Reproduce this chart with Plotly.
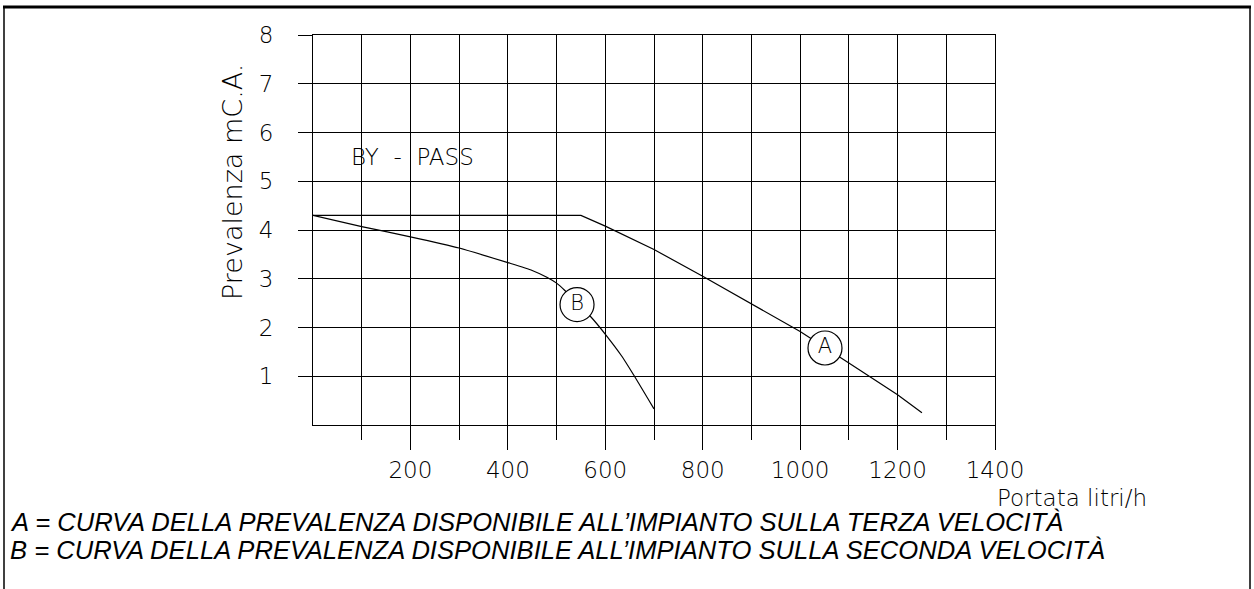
import plotly.graph_objects as go

# ---- data ----
a_x = [0, 550, 600, 700, 800, 900, 1000, 1100, 1200, 1250]
a_y = [4.3, 4.3, 4.08, 3.6, 3.05, 2.48, 1.92, 1.27, 0.62, 0.25]

b_x = [0, 100, 200, 300, 400, 450, 480, 500, 517, 542, 572, 601, 634, 658, 700]
b_y = [4.3, 4.07, 3.86, 3.63, 3.33, 3.17, 3.03, 2.91, 2.76, 2.5, 2.2, 1.85, 1.41, 1.03, 0.33]

label_names = ["A", "B"]
label_x = [1051, 542]
label_y = [1.58, 2.47]
bypass_x, bypass_y = 204, 5.5

x_major = [200, 400, 600, 800, 1000, 1200, 1400]
x_minor = [100, 300, 500, 700, 900, 1100, 1300]
y_ticks = [1, 2, 3, 4, 5, 6, 7, 8]

y_title = "Prevalenza mC.A."
x_title = "Portata litri/h"
note_a = "A = CURVA DELLA PREVALENZA DISPONIBILE ALL\u2019IMPIANTO SULLA TERZA VELOCIT\u00c0"
note_b = "B = CURVA DELLA PREVALENZA DISPONIBILE ALL\u2019IMPIANTO SULLA SECONDA VELOCIT\u00c0"

CAD = "DejaVu Sans"
W, H = 1254, 589
L, R, T, B = 313, 259, 35, 164
PW, PH = W - L - R, H - T - B


def px(xp):
    return (xp - L) / PW


def py(yp):
    return (H - B - yp) / PH


fig = go.Figure()
fig.add_trace(go.Scatter(x=a_x, y=a_y, mode="lines", line=dict(color="black", width=1.2),
                         hoverinfo="skip", showlegend=False))
fig.add_trace(go.Scatter(x=b_x, y=b_y, mode="lines", line=dict(color="black", width=1.2, shape="spline", smoothing=0.6),
                         hoverinfo="skip", showlegend=False))
fig.add_trace(go.Scatter(
    x=label_x, y=label_y,
    mode="markers+text", text=label_names, textposition="middle center",
    textfont=dict(family=CAD, size=21, color="black", weight=200),
    marker=dict(size=34, color="white", line=dict(color="black", width=1.2)),
    hoverinfo="skip", showlegend=False))

tick_font = dict(family=CAD, size=23, color="black", weight=200)
fig.update_layout(
    width=W, height=H, margin=dict(l=L, r=R, t=T, b=B),
    paper_bgcolor="white", plot_bgcolor="white",
    font=dict(family=CAD, color="black", weight=200),
    xaxis=dict(range=[0, 1400], tickmode="array", tickvals=x_major, ticktext=[str(v) for v in x_major],
               showgrid=True, gridcolor="black", gridwidth=1.2, zeroline=False,
               showline=True, linecolor="black", linewidth=1.2, mirror=True,
               ticks="outside", ticklen=24, tickwidth=1.2, tickcolor="black",
               tickfont=tick_font, ticklabelstandoff=0,
               minor=dict(tickmode="array", tickvals=x_minor, showgrid=True, gridcolor="black", gridwidth=1.2,
                          ticks="outside", ticklen=14, tickwidth=1.2, tickcolor="black")),
    yaxis=dict(range=[0, 8], tickmode="array", tickvals=y_ticks, ticktext=[str(v) for v in y_ticks],
               showgrid=True, gridcolor="black", gridwidth=1.2, zeroline=False,
               showline=True, linecolor="black", linewidth=1.2, mirror=True,
               ticks="outside", ticklen=14, tickwidth=1.2, tickcolor="black",
               tickfont=tick_font, ticklabelstandoff=20),
)

ann = [
    dict(text=y_title, x=px(232), y=py(182), xref="paper", yref="paper", textangle=-90,
         xanchor="center", yanchor="middle",
         showarrow=False, font=dict(family=CAD, size=27, color="black", weight=200)),
    dict(text=x_title, x=px(1072), y=py(498), xref="paper", yref="paper",
         xanchor="center", yanchor="middle",
         showarrow=False, font=dict(family=CAD, size=23, color="black", weight=200)),
    dict(text="BY  -  PASS", x=bypass_x, y=bypass_y, xref="x", yref="y",
         xanchor="center", yanchor="middle",
         showarrow=False, font=dict(family=CAD, size=23, color="black", weight=200)),
    dict(text="<i>" + note_a + "</i>", x=px(8), y=py(522), xref="paper", yref="paper",
         xanchor="left", yanchor="middle",
         showarrow=False, font=dict(family="Liberation Sans", size=25.6, color="black")),
    dict(text="<i>" + note_b + "</i>", x=px(8), y=py(550), xref="paper", yref="paper",
         xanchor="left", yanchor="middle",
         showarrow=False, font=dict(family="Liberation Sans", size=25.6, color="black")),
]
fig.update_layout(annotations=ann)

# outer frame
fig.add_shape(type="line", xref="paper", yref="paper", x0=px(3), x1=px(1251), y0=py(7), y1=py(7),
              line=dict(color="black", width=3))
fig.add_shape(type="line", xref="paper", yref="paper", x0=px(4), x1=px(4), y0=py(7), y1=py(592),
              line=dict(color="black", width=1.5))
fig.add_shape(type="line", xref="paper", yref="paper", x0=px(1250), x1=px(1250), y0=py(7), y1=py(592),
              line=dict(color="black", width=1.5))

fig.write_html("out.html", config={"displayModeBar": False},
               post_script="document.body.style.margin='0';document.body.style.overflow='hidden';")
